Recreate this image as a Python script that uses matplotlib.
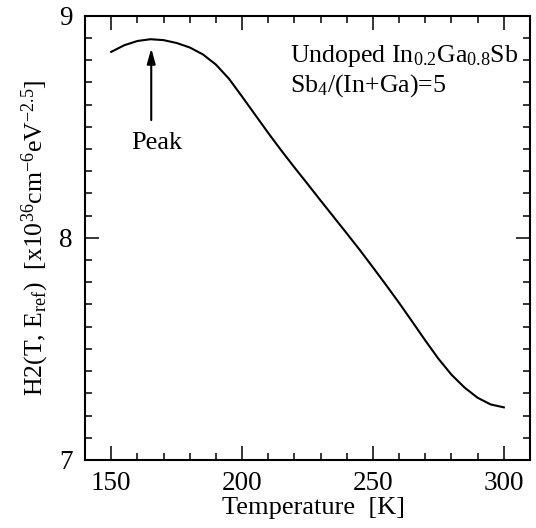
import matplotlib
matplotlib.use("Agg")
import matplotlib.pyplot as plt
from matplotlib.ticker import MultipleLocator

temperature = [150, 155, 160, 165, 170, 175, 180, 185, 190, 195, 200, 205, 210,
               215, 220, 225, 230, 235, 240, 245, 250, 255, 260, 265, 270, 275,
               280, 285, 290, 295, 300]
h2 = [8.837, 8.867, 8.886, 8.894, 8.890, 8.877, 8.857, 8.826, 8.780, 8.716,
      8.636, 8.554, 8.472, 8.393, 8.317, 8.243, 8.168, 8.094, 8.020,
      7.945, 7.867, 7.788, 7.707, 7.623, 7.538, 7.456, 7.384, 7.326, 7.280,
      7.250, 7.237]

peak_T = 165.3
peak_tip = 8.853
peak_tail = 8.53

plt.rcParams['font.family'] = ['Liberation Serif', 'DejaVu Serif']
plt.rcParams['mathtext.fontset'] = 'custom'
plt.rcParams['mathtext.rm'] = 'Liberation Serif'
plt.rcParams['mathtext.it'] = 'Liberation Serif:italic'
plt.rcParams['mathtext.default'] = 'regular'

fig = plt.figure(figsize=(5.36, 5.28), dpi=100)
ax = fig.add_axes([0.1586, 0.1288, 0.8302, 0.8415])

ax.plot(temperature, h2, color='black', lw=1.5)

ax.set_xlim(140, 310)
ax.set_ylim(7, 9)
ax.xaxis.set_major_locator(MultipleLocator(50))
ax.xaxis.set_minor_locator(MultipleLocator(10))
ax.yaxis.set_major_locator(MultipleLocator(1))
ax.yaxis.set_minor_locator(MultipleLocator(0.1))
ax.tick_params(which='both', direction='in', top=True, right=True,
               labelsize=19.5, width=1.1)
ax.tick_params(which='major', length=10)
ax.tick_params(which='minor', length=5)
ax.tick_params(axis='x', which='major', pad=8)
ax.tick_params(axis='y', which='major', pad=9)
for s in ax.spines.values():
    s.set_linewidth(1.5)

ax.set_xlabel('Temperature  [K]', fontsize=19, labelpad=2)
ax.xaxis.set_label_coords(0.513, -0.083)
ax.set_ylabel(r'H2(T, E$_{ref}$)  [x10$^{36}$cm$^{-6}$eV$^{-2.5}$]',
              fontsize=18.5, labelpad=6)

ax.annotate('', xy=(peak_T, peak_tip), xytext=(peak_T, peak_tail),
            arrowprops=dict(arrowstyle='-|>,head_length=0.9,head_width=0.25',
                            color='black', lw=1.5, shrinkA=0, shrinkB=0))
ax.text(peak_T + 2, 8.427, 'Peak', fontsize=19, ha='center', va='center')

ax.text(0.461, 0.8965, r'Undoped In$_{0.2}$Ga$_{0.8}$Sb', transform=ax.transAxes,
        fontsize=18.6, ha='left', va='baseline')
ax.text(0.461, 0.829, r'Sb$_{4}$/(In+Ga)=5', transform=ax.transAxes,
        fontsize=18.6, ha='left', va='baseline')

fig.savefig('out.png', dpi=100)
